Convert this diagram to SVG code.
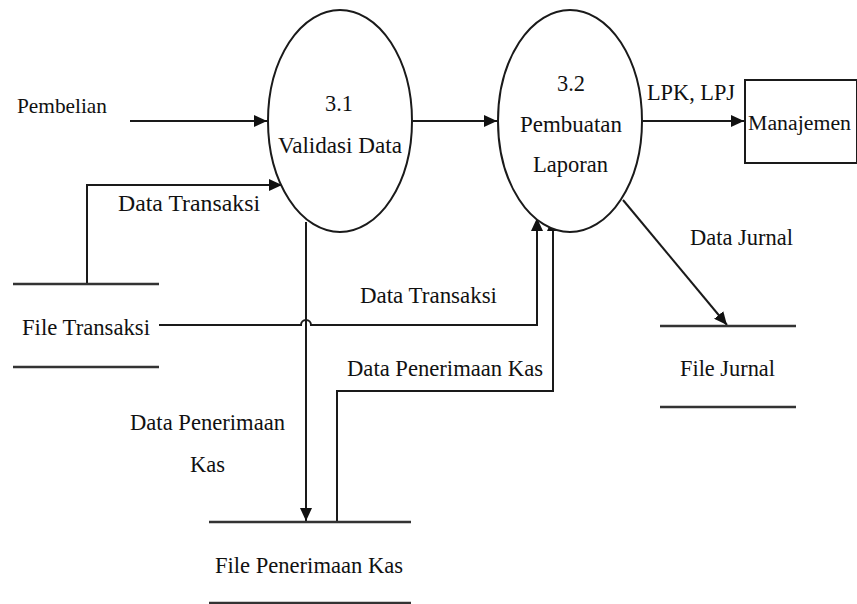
<svg xmlns="http://www.w3.org/2000/svg" width="857" height="604" viewBox="0 0 857 604">
<defs>
<style>
text{font-family:'Liberation Serif','DejaVu Serif',serif;font-size:24px;fill:#111}
.ln{fill:none;stroke:#1a1a1a;stroke-width:2}
.st{stroke:#333;stroke-width:2.5}
.shape{fill:#fff;stroke:#1a1a1a;stroke-width:2}
</style>
<marker id="ah" markerUnits="userSpaceOnUse" markerWidth="14" markerHeight="12" refX="13" refY="6" orient="auto">
<path d="M0,0 L13,6 L0,12 Z" fill="#111"/>
</marker>
</defs>
<rect width="857" height="604" fill="#fff"/>

<g id="connectors">
<path class="ln" d="M130,121 H267" marker-end="url(#ah)"/>
<path class="ln" d="M87,284 V185 H282" marker-end="url(#ah)"/>
<path class="ln" d="M413,121 H497" marker-end="url(#ah)"/>
<path class="ln" d="M643,121 H744" marker-end="url(#ah)"/>
<path class="ln" d="M306,222 V521" marker-end="url(#ah)"/>
<path class="ln" d="M159,325 H301 A5,5 0 0 1 311,325 H537 V218" marker-end="url(#ah)"/>
<path class="ln" d="M337,522 V391 H553 V218" marker-end="url(#ah)"/>
<path class="ln" d="M623,200 L727,325" marker-end="url(#ah)"/>
</g>

<g id="labels">
<text x="17" y="113" style="font-size:21px" textLength="90" lengthAdjust="spacingAndGlyphs">Pembelian</text>
<text x="118" y="211" textLength="142" lengthAdjust="spacingAndGlyphs">Data Transaksi</text>
<text x="360" y="303" textLength="137" lengthAdjust="spacingAndGlyphs">Data Transaksi</text>
<text x="347" y="376" textLength="196" lengthAdjust="spacingAndGlyphs">Data Penerimaan Kas</text>
<text x="130" y="430" textLength="155" lengthAdjust="spacingAndGlyphs">Data Penerimaan</text>
<text x="190" y="472" textLength="35" lengthAdjust="spacingAndGlyphs">Kas</text>
<text x="647" y="100" textLength="88" lengthAdjust="spacingAndGlyphs">LPK, LPJ</text>
<text x="690" y="245" textLength="103" lengthAdjust="spacingAndGlyphs">Data Jurnal</text>
</g>

<g id="p31">
<ellipse class="shape" cx="340" cy="121" rx="72" ry="111"/>
<text x="325" y="111" textLength="28" lengthAdjust="spacingAndGlyphs">3.1</text>
<text x="278" y="153" textLength="124" lengthAdjust="spacingAndGlyphs">Validasi Data</text>
</g>

<g id="p32">
<ellipse class="shape" cx="570" cy="121" rx="72" ry="111"/>
<text x="557" y="91" textLength="28" lengthAdjust="spacingAndGlyphs">3.2</text>
<text x="520" y="132" textLength="102" lengthAdjust="spacingAndGlyphs">Pembuatan</text>
<text x="533" y="172" textLength="75" lengthAdjust="spacingAndGlyphs">Laporan</text>
</g>

<g id="manajemen">
<rect class="shape" x="745" y="80" width="112" height="83"/>
<text x="748" y="130" style="font-size:20px" textLength="103" lengthAdjust="spacingAndGlyphs">Manajemen</text>
</g>

<g id="file-transaksi">
<line class="st" x1="13" y1="284" x2="159" y2="284"/>
<line class="st" x1="13" y1="367" x2="159" y2="367"/>
<text x="22" y="335" textLength="128" lengthAdjust="spacingAndGlyphs">File Transaksi</text>
</g>

<g id="file-penerimaan-kas">
<line class="st" x1="209" y1="522" x2="411" y2="522"/>
<line class="st" x1="209" y1="603" x2="411" y2="603"/>
<text x="215" y="573" textLength="188" lengthAdjust="spacingAndGlyphs">File Penerimaan Kas</text>
</g>

<g id="file-jurnal">
<line class="st" x1="660" y1="326" x2="796" y2="326"/>
<line class="st" x1="660" y1="407" x2="796" y2="407"/>
<text x="680" y="376" textLength="95" lengthAdjust="spacingAndGlyphs">File Jurnal</text>
</g>
</svg>
